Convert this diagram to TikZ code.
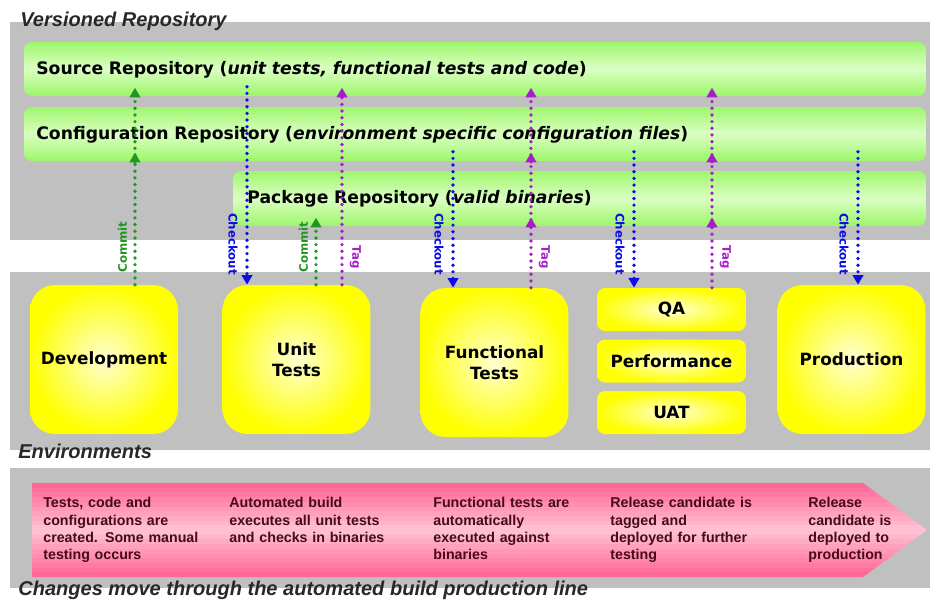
\documentclass[tikz,border=0pt]{standalone}
\usepackage{fontspec}
\setmainfont{Liberation Sans}
\newfontfamily\verd{DejaVu Sans}
\usetikzlibrary{arrows.meta,positioning}

\definecolor{bggray}{RGB}{192,192,192}
\definecolor{bargreen}{RGB}{158,246,108}
\definecolor{barlight}{RGB}{218,255,195}
\definecolor{envyellow}{RGB}{255,255,0}
\definecolor{envlight}{RGB}{255,255,210}
\definecolor{linepink}{RGB}{255,98,148}
\definecolor{linelight}{RGB}{255,195,212}
\definecolor{commitgreen}{RGB}{34,150,34}
\definecolor{checkoutblue}{RGB}{12,12,230}
\definecolor{tagpurple}{RGB}{165,30,200}
\definecolor{notetxt}{RGB}{70,10,28}
\definecolor{titletxt}{RGB}{40,40,40}

\tikzset{
  repobar/.style={anchor=north west, minimum height=1.08cm, align=left,
    font=\verd\bfseries\fontsize{9.8}{11}\selectfont},
  envbox/.style={rounded corners=0.5cm, inner color=envlight, outer color=envyellow,
    minimum width=2.96cm, minimum height=2.98cm, align=center,
    font=\verd\bfseries\fontsize{9.6}{12}\selectfont},
  stagebox/.style={envbox, rounded corners=0.16cm, minimum height=0.86cm, minimum width=2.98cm},
  areatitle/.style={anchor=base west, inner sep=0, text=titletxt,
    font=\bfseries\itshape\fontsize{11.4}{13}\selectfont},
  note/.style={anchor=north west, inner sep=0, text width=3.3cm, align=left, text=notetxt,
    font=\bfseries\fontsize{8.1}{9.9}\selectfont},
  flow/.style={line width=2.1pt, dash pattern=on 0pt off 3.8pt, line cap=round},
  commitline/.style={flow, draw=commitgreen, -{Triangle[length=5.5pt,width=6pt]}, shorten >=-0.18cm},
  tagline/.style={flow, draw=tagpurple, -{Triangle[length=5.5pt,width=6pt]}, shorten >=-0.18cm},
  checkoutline/.style={flow, draw=checkoutblue, -{Triangle[length=5.5pt,width=6pt]}, shorten <=-0.2cm},
  flowlabel/.style={inner sep=0, font=\verd\bfseries\fontsize{6.7}{7}\selectfont},
}

\begin{document}
\begin{tikzpicture}[x=0.02cm, y=-0.02cm]
  \useasboundingbox (0,0) rectangle (930,599);

  % Gray areas
  \fill[bggray] (10,22) rectangle (930,240);
  \fill[bggray] (10,272) rectangle (930,450);
  \fill[bggray] (10,468) rectangle (930,588);

  % Area titles
  \node[areatitle] (vtitle) at (20,26) {Versioned Repository};
  \node[areatitle] (etitle) at (18,458) {Environments};
  \node[areatitle] (ctitle) at (18,595) {Changes move through the automated build production line};

  % Green bars, light along the middle
  \foreach \bx/\by/\bw/\bh in {24/42/902/54, 24/107/902/54, 233/171/693/55} {
    \begin{scope}
      \clip[rounded corners=0.16cm] (\bx,\by) rectangle ++(\bw,\bh);
      \foreach \i in {0,...,19} {
        \pgfmathtruncatemacro\p{100-abs(\i-9.5)*10}
        \fill[barlight!\p!bargreen] (\bx,{\by+\i*\bh/20}) rectangle ++(\bw,{1.2*\bh/20});
      }
    \end{scope}
  }

  % Repositories
  \node[repobar, text width=17.56cm, inner xsep=0.24cm] (source) at (24,42)
    {Source Repository (\textit{unit tests, functional tests and code})};
  \node[repobar, text width=17.56cm, inner xsep=0.24cm] (config) at (24,107)
    {Configuration Repository (\textit{environment specific configuration files})};
  \node[repobar, text width=13.30cm, inner xsep=0.28cm, minimum height=1.1cm] (package) at (233,171)
    {Package Repository (\textit{valid binaries})};

  % Environments
  \node[envbox] (dev) at (104,359.5) {Development};
  \node[envbox] (unit) at (296.5,359.5) {Unit\\Tests};
  \node[envbox] (func) at (494.5,362.5) {Functional\\Tests};
  \node[stagebox] (qa) at (671.5,309.5) {QA};
  \node[stagebox] (perf) at (671.5,361) {Performance};
  \node[stagebox] (uat) at (671.5,412.5) {UAT};
  \node[envbox] (prod) at (851.5,359.5) {Production};

  % Columns of the connectors
  \coordinate (devcommit) at ([xshift=0.62cm]dev.north);
  \coordinate (unitcheckout) at ([xshift=-0.99cm]unit.north);
  \coordinate (unitcommit) at ([xshift=0.39cm]unit.north);
  \coordinate (unittag) at ([xshift=0.91cm]unit.north);
  \coordinate (funccheckout) at ([xshift=-0.83cm]func.north);
  \coordinate (functag) at ([xshift=0.73cm]func.north);
  \coordinate (qacheckout) at ([xshift=-0.75cm]qa.north);
  \coordinate (qatag) at ([xshift=0.81cm]qa.north);
  \coordinate (prodcheckout) at ([xshift=0.13cm]prod.north);

  % Commit
  \draw[commitline] (devcommit) -- (devcommit |- config.south);
  \draw[commitline] (devcommit |- config.south) -- (devcommit |- source.south);
  \draw[commitline] (unitcommit) -- (unitcommit |- package.south);

  % Checkout
  \draw[checkoutline] (unitcheckout |- source.south) -- (unitcheckout);
  \draw[checkoutline] (funccheckout |- config.south) -- (funccheckout);
  \draw[checkoutline] (qacheckout |- config.south) -- (qacheckout);
  \draw[checkoutline] (prodcheckout |- config.south) -- (prodcheckout);

  % Tag
  \draw[tagline] (unittag) -- (unittag |- source.south);
  \foreach \t in {functag, qatag} {
    \draw[tagline] (\t) -- (\t |- package.south);
    \draw[tagline] (\t |- package.south) -- (\t |- config.south);
    \draw[tagline] (\t |- config.south) -- (\t |- source.south);
  }

  % Connector labels
  \node[flowlabel, text=commitgreen, rotate=90] (lcommit1) at ([xshift=-0.25cm]devcommit |- 0,247) {Commit};
  \node[flowlabel, text=commitgreen, rotate=90] (lcommit2) at ([xshift=-0.25cm]unitcommit |- 0,247) {Commit};
  \node[flowlabel, text=checkoutblue, rotate=-90] (lcheckout1) at ([xshift=-0.28cm]unitcheckout |- 0,244) {Checkout};
  \node[flowlabel, text=checkoutblue, rotate=-90] (lcheckout2) at ([xshift=-0.28cm]funccheckout |- 0,244) {Checkout};
  \node[flowlabel, text=checkoutblue, rotate=-90] (lcheckout3) at ([xshift=-0.28cm]qacheckout |- 0,244) {Checkout};
  \node[flowlabel, text=checkoutblue, rotate=-90] (lcheckout4) at ([xshift=-0.28cm]prodcheckout |- 0,244) {Checkout};
  \node[flowlabel, text=tagpurple, rotate=-90] (ltag1) at ([xshift=0.27cm]unittag |- 0,257) {Tag};
  \node[flowlabel, text=tagpurple, rotate=-90] (ltag2) at ([xshift=0.27cm]functag |- 0,257) {Tag};
  \node[flowlabel, text=tagpurple, rotate=-90] (ltag3) at ([xshift=0.27cm]qatag |- 0,257) {Tag};

  % Production line
  \begin{scope}
    \clip (32,483) -- (863,483) -- (927,530) -- (863,577) -- (32,577) -- cycle;
    \foreach \i in {0,...,19} {
      \pgfmathtruncatemacro\p{100-abs(\i-9.5)*10}
      \fill[linelight!\p!linepink] (32,{483+\i*4.7}) rectangle (927,{483+(\i+1.2)*4.7});
    }
  \end{scope}
  \node[note] (ndev) at (43,497) {Tests, code and\\configurations are\\created. Some manual\\testing occurs};
  \node[note] (nunit) at (229,497) {Automated build\\executes all unit tests\\and checks in binaries};
  \node[note] (nfunc) at (433,497) {Functional tests are\\automatically\\executed against\\binaries};
  \node[note] (nqa) at (610,497) {Release candidate is\\tagged and\\deployed for further\\testing};
  \node[note] (nprod) at (808,497) {Release\\candidate is\\deployed to\\production};
\end{tikzpicture}
\end{document}
